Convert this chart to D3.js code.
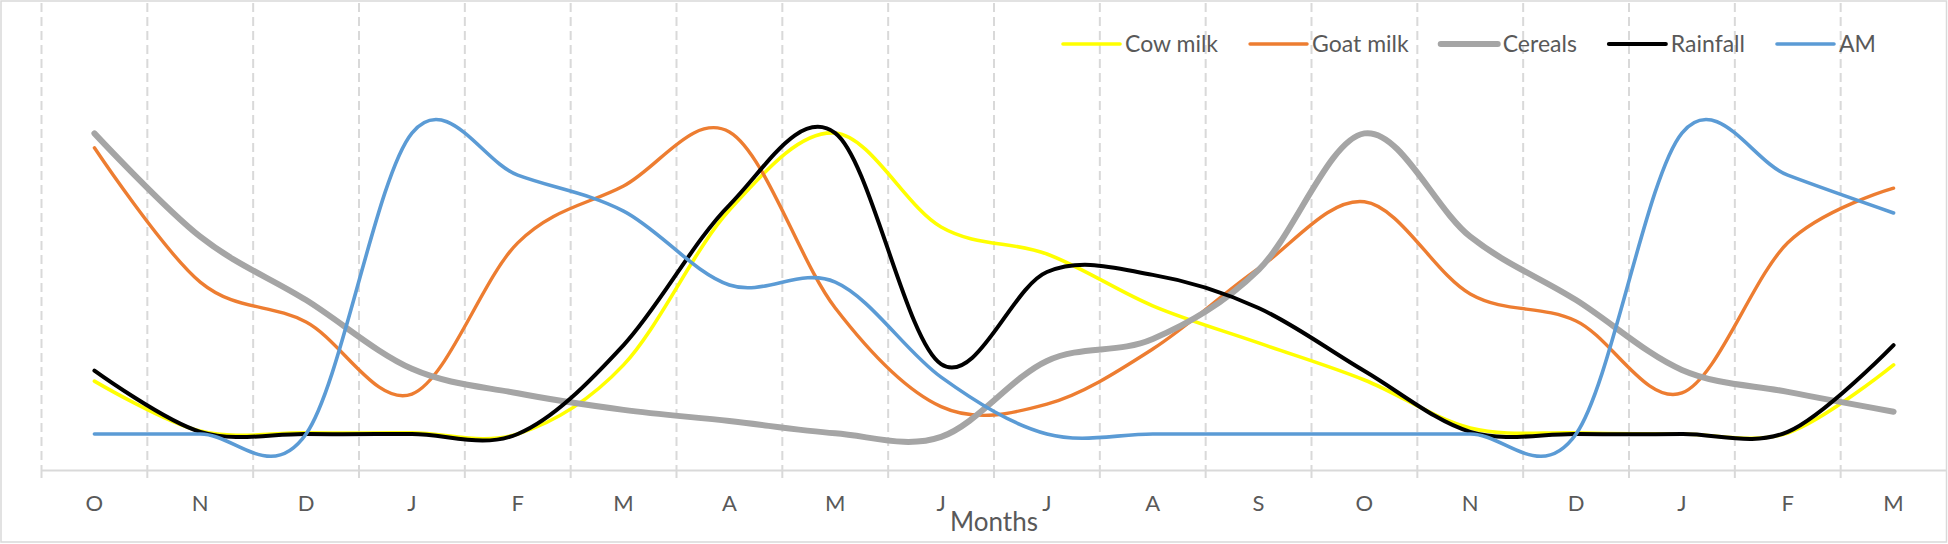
<!DOCTYPE html>
<html>
<head>
<meta charset="utf-8">
<script src="https://cdn.jsdelivr.net/npm/d3@7"></script>
<style>
  html, body { margin: 0; padding: 0; background: #ffffff; }
  svg { display: block; }
  text { font-family: Lato, "Open Sans", sans-serif; fill: #595959; }
</style>
</head>
<body>
<svg id="chart" width="1948" height="544"></svg>
<script>
// ---- data ----
const months = ["O","N","D","J","F","M","A","M","J","J","A","S","O","N","D","J","F","M"];
const seriesNames = ["Cow milk","Goat milk","Cereals","Rainfall","AM"];
const cowMilk  = [14.7, 0.8, 0.3, 0.3, 0.0, 19.2, 62.2, 83.6, 57.5, 50.0, 35.6, 25.3, 15.0, 1.7, 0.3, 0.0, 0.3, 19.2];
const goatMilk = [79.5, 42.2, 31.1, 11.1, 53.1, 68.9, 83.9, 35.0, 7.6, 8.3, 23.6, 46.0, 64.5, 38.9, 31.4, 11.4, 53.1, 68.3];
const cereals  = [83.5, 54.8, 37.2, 18.1, 11.3, 6.7, 3.6, 0.2, -0.8, 20.3, 26.4, 45.6, 83.5, 54.8, 37.2, 17.8, 11.7, 6.2];
const rainfall = [17.6, 0.6, 0.0, 0.0, 0.0, 24.7, 63.6, 83.6, 19.4, 45.0, 44.2, 35.0, 17.5, 0.6, 0.0, 0.0, 0.6, 24.7];
const am       = [0, 0, 0, 83.6, 71.9, 61.9, 41.4, 42.2, 15.8, 0, 0, 0, 0, 0, 0, 83.6, 71.9, 61.4];
const axisTitle = "Months";

// ---- styles ----
const colors = ["#ffff00", "#ed7d31", "#a5a5a5", "#000000", "#5b9bd5"];
const widths = [3.6, 3.4, 6, 4, 3.6];
const allSeries = [cowMilk, goatMilk, cereals, rainfall, am];

const W = 1948, H = 544;
const plot = { left: 41.5, right: 1946.5, top: 3, bottom: 470 };

const svg = d3.select("#chart");

// outer border
svg.append("rect")
  .attr("x", 1).attr("y", 1).attr("width", W - 2.5).attr("height", H - 3)
  .attr("fill", "none").attr("stroke", "#d9d9d9").attr("stroke-width", 1.5);

const x = d3.scaleBand().domain(d3.range(months.length)).range([plot.left, plot.right]);
const y = d3.scaleLinear().domain([-10, 100]).range([plot.bottom, 74]);

// vertical dashed gridlines at category boundaries
const bounds = d3.range(months.length).map(i => x(i));
svg.append("g").selectAll("line").data(bounds).join("line")
  .attr("x1", d => d).attr("x2", d => d)
  .attr("y1", plot.top).attr("y2", plot.bottom)
  .attr("stroke", "#d9d9d9").attr("stroke-width", 2)
  .attr("stroke-dasharray", "9,5");

// tick marks below axis
svg.append("g").selectAll("line").data(bounds).join("line")
  .attr("x1", d => d).attr("x2", d => d)
  .attr("y1", plot.bottom).attr("y2", plot.bottom + 8)
  .attr("stroke", "#d9d9d9").attr("stroke-width", 2);

// x axis
const xAxis = d3.axisBottom(x).tickSize(0).tickPadding(25).tickFormat(i => months[i]);
const gx = svg.append("g").attr("transform", `translate(0,${plot.bottom})`).call(xAxis);
gx.select(".domain").attr("stroke", "#d9d9d9").attr("stroke-width", 2);
gx.selectAll("text").style("font-size", "22px").attr("fill", "#595959");

// axis title
svg.append("text")
  .attr("x", (plot.left + plot.right) / 2).attr("y", 531)
  .attr("text-anchor", "middle")
  .style("font-size", "26px")
  .text(axisTitle);

// lines
const line = d3.line()
  .x((d, i) => x(i) + x.bandwidth() / 2)
  .y(d => y(d))
  .curve(d3.curveCatmullRom.alpha(0));

allSeries.forEach((s, k) => {
  svg.append("path")
    .datum(s)
    .attr("fill", "none")
    .attr("stroke", colors[k])
    .attr("stroke-width", widths[k])
    .attr("stroke-linecap", "round")
    .attr("stroke-linejoin", "round")
    .attr("d", line);
});

// legend
const legend = svg.append("g");
let lx = 1063;
const ly = 44;
seriesNames.forEach((name, k) => {
  legend.append("line")
    .attr("x1", lx).attr("x2", lx + 57)
    .attr("y1", ly).attr("y2", ly)
    .attr("stroke", colors[k]).attr("stroke-width", widths[k])
    .attr("stroke-linecap", "round");
  const t = legend.append("text")
    .attr("x", lx + 62).attr("y", ly)
    .attr("dy", "0.35em")
    .style("font-size", "23px")
    .text(name);
  lx += 62 + t.node().getComputedTextLength() + 32;
});
</script>
</body>
</html>
